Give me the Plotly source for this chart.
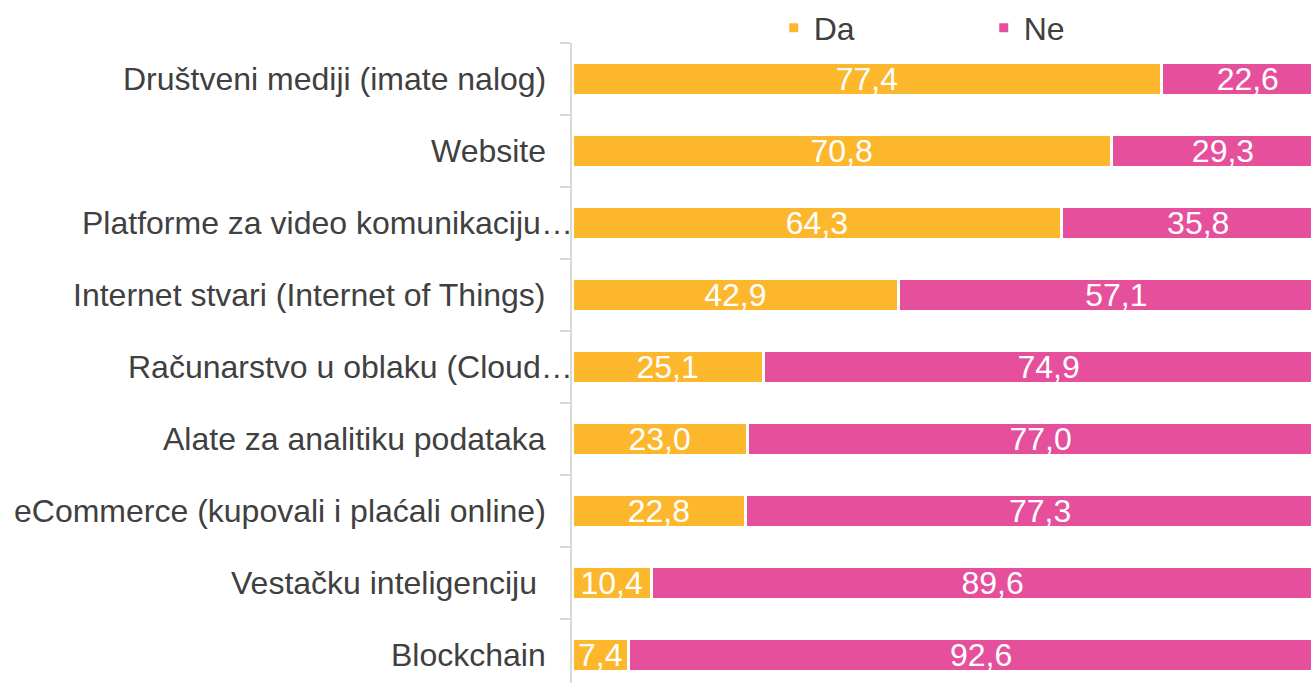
import plotly.graph_objects as go

categories = [
    "Društveni mediji (imate nalog)",
    "Website",
    "Platforme za video komunikaciju…",
    "Internet stvari (Internet of Things)",
    "Računarstvo u oblaku (Cloud…",
    "Alate za analitiku podataka",
    "eCommerce (kupovali i plaćali online)",
    "Vestačku inteligenciju\u00a0",
    "Blockchain",
]
da = [77.4, 70.8, 64.3, 42.9, 25.1, 23.0, 22.8, 10.4, 7.4]
ne = [22.6, 29.3, 35.8, 57.1, 74.9, 77.0, 77.3, 89.6, 92.6]

ORANGE = "#FDB72D"
PINK = "#E54F9B"
TEXT = "#404040"

def fmt(v):
    return f"{v:.1f}".replace(".", ",")

fig = go.Figure()
for name, vals, col in [("Da", da, ORANGE), ("Ne", ne, PINK)]:
    fig.add_trace(go.Bar(
        y=categories, x=vals, name=name, orientation="h",
        marker=dict(color=col, line=dict(color="white", width=3)),
        text=[fmt(v) for v in vals], textposition="inside",
        insidetextanchor="middle", textangle=0, constraintext="none",
        textfont=dict(color="white", size=32, family="Liberation Sans, Arial"),
        hoverinfo="skip",
    ))

# category labels: truncated ones (ending in an ellipsis) run right up to the axis
for cat in categories:
    fig.add_annotation(
        xref="paper", x=0, yref="y", y=cat, text=cat, showarrow=False,
        xanchor="right", yanchor="middle",
        xshift=3 if cat.endswith("…") else -24,
        font=dict(size=32, color=TEXT, family="Liberation Sans, Arial"),
    )

fig.update_layout(
    width=1311, height=683,
    barmode="stack", bargap=0.545,
    margin=dict(l=572, r=0, t=43, b=0, autoexpand=False),
    paper_bgcolor="white", plot_bgcolor="white",
    font=dict(family="Liberation Sans, Arial", size=32, color=TEXT),
    showlegend=True,
    legend=dict(orientation="h", x=0.273, xanchor="left", y=1.0234, yanchor="middle",
                entrywidth=165, font=dict(size=32, color=TEXT),
                traceorder="normal", itemclick=False),
)
# the original chart's value axis runs past the right edge of the picture
fig.update_xaxes(range=[0, 97.0], visible=False, fixedrange=True)
fig.update_yaxes(
    type="category", categoryorder="array", categoryarray=categories,
    range=[8.389, -0.5],
    showline=True, linecolor="#D9D9D9", linewidth=1.5,
    ticks="outside", tickson="boundaries", ticklen=10, tickcolor="#D9D9D9", tickwidth=1.5,
    showticklabels=False,
    showgrid=False, zeroline=False, fixedrange=True,
)

fig.write_html(
    "out.html",
    config={"displayModeBar": False},
    post_script="document.body.style.margin='0';document.body.style.overflow='hidden';",
)
